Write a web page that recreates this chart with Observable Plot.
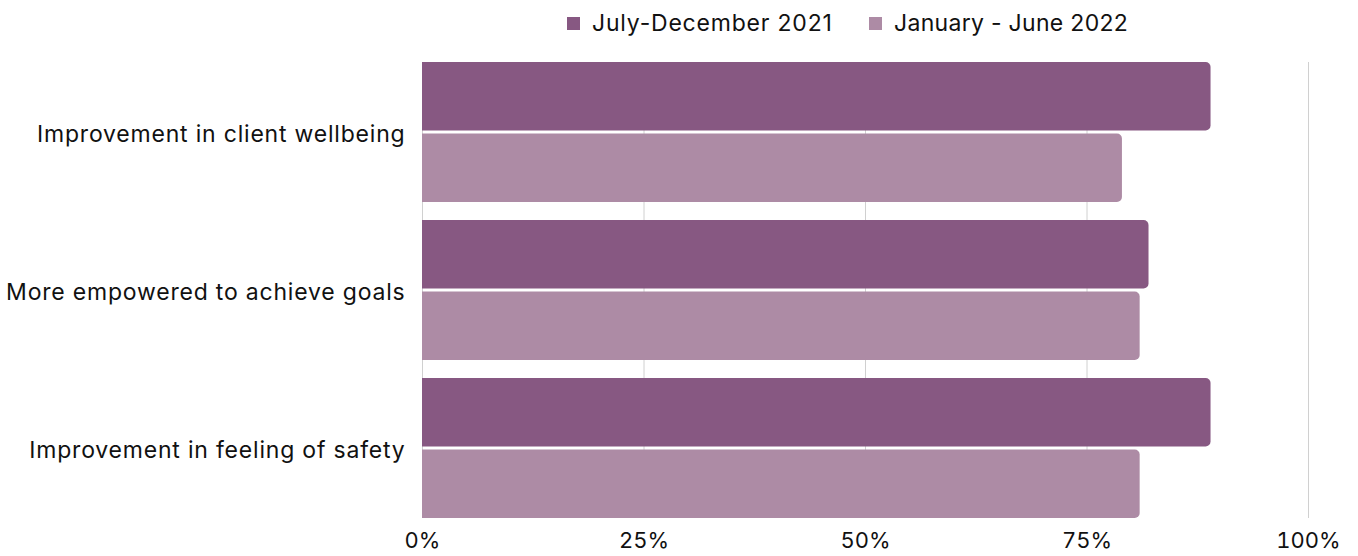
<!DOCTYPE html>
<html>
<head>
<meta charset="utf-8">
<script src="https://cdn.jsdelivr.net/npm/d3@7"></script>
<script src="https://cdn.jsdelivr.net/npm/@observablehq/plot@0.6"></script>
<style>
  html, body { margin: 0; padding: 0; background: #fff; }
  body { width: 1358px; height: 556px; overflow: hidden; font-family: Inter, sans-serif; }
  #legend { height: 50px; position: relative; font-size: 23px; letter-spacing: 0.8px; color: #111; }
  .item { position: absolute; top: 9px; display: flex; align-items: center; white-space: nowrap; }
  .item.second { letter-spacing: 0.3px; }
  .sw { width: 13px; height: 13px; margin-right: 12px; }
  .yax text { letter-spacing: 0.8px; }
</style>
</head>
<body>
<div id="legend"></div>
<div id="chart"></div>
<script>
const categories = ["Improvement in client wellbeing", "More empowered to achieve goals", "Improvement in feeling of safety"];
const series = ["July-December 2021", "January - June 2022"];
const values2021 = [0.89, 0.82, 0.89];
const values2022 = [0.79, 0.81, 0.81];
const colors = ["#875882", "#ad8ba5"];
const xTicks = [0, 0.25, 0.5, 0.75, 1];

const rows2021 = categories.map((c, i) => ({category: c, series: series[0], value: values2021[i]}));
const rows2022 = categories.map((c, i) => ({category: c, series: series[1], value: values2022[i]}));

const legend = document.getElementById("legend");
const legendX = [567, 869];
series.forEach((s, i) => {
  const it = document.createElement("div");
  it.className = "item" + (i === 1 ? " second" : "");
  it.style.left = legendX[i] + "px";
  it.innerHTML = `<span class="sw" style="background:${colors[i]}"></span><span>${s}</span>`;
  legend.appendChild(it);
});

const bandHalf = 70; // half of band height in px
const chart = Plot.plot({
  width: 1358,
  height: 506,
  marginLeft: 422,
  marginRight: 50,
  marginTop: 12,
  marginBottom: 38,
  style: {fontFamily: "Inter, sans-serif", fontSize: "23px", color: "#111"},
  x: {domain: [0, 1], label: null},
  y: {domain: categories, paddingInner: 0.114, paddingOuter: 0, label: null},
  color: {domain: series, range: colors},
  marks: [
    Plot.ruleX(xTicks, {stroke: "#d0d0d0", strokeWidth: 1}),
    Plot.barX(rows2021, {y: "category", x: "value", fill: "series", insetBottom: bandHalf + 1.5, rx2: 5}),
    Plot.barX(rows2022, {y: "category", x: "value", fill: "series", insetTop: bandHalf + 1.5, rx2: 5}),
    Plot.axisY({anchor: "left", tickSize: 0, tickPadding: 17, label: null, fontSize: 23, dy: 2, className: "yax"}),
    Plot.axisX({ticks: xTicks, tickFormat: d3.format(".0%"), tickSize: 0, tickPadding: 14, label: null, fontSize: 22})
  ]
});
document.getElementById("chart").appendChild(chart);
</script>
</body>
</html>
